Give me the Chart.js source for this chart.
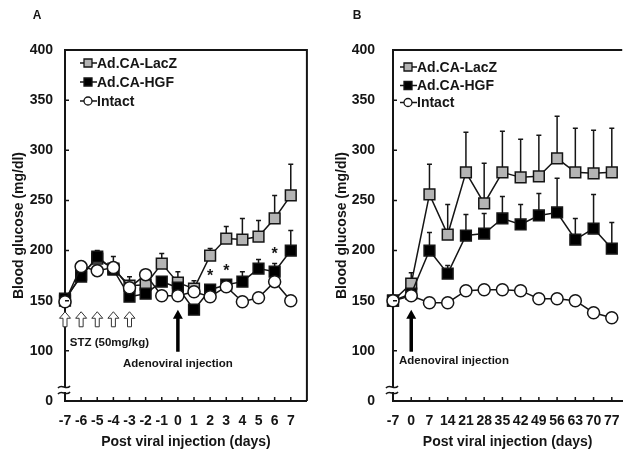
<!DOCTYPE html>
<html>
<head>
<meta charset="utf-8">
<script src="https://cdn.jsdelivr.net/npm/chart.js@4.4.1/dist/chart.umd.min.js"></script>
<style>
  html, body { margin: 0; padding: 0; background: #fff; }
  #wrap { position: relative; width: 632px; height: 451px; overflow: hidden; }
  canvas { position: absolute; top: 0; }
  #chartA { left: 0; }
  #chartB { left: 316px; }
</style>
</head>
<body>
<div id="wrap">
  <canvas id="chartA" width="316" height="451"></canvas>
  <canvas id="chartB" width="316" height="451"></canvas>
</div>
<script>
// Panel A: daily readings through the STZ course, injection on day 0
const daysA = [-7, -6, -5, -4, -3, -2, -1, 0, 1, 2, 3, 4, 5, 6, 7]
const lacZA = [150, 176, 192, 182, 165, 166, 187, 168, 162, 195, 212, 211, 214, 232, 255]
const lacZAErr = [3, 5, 6, 12, 9, 5, 10, 11, 8, 7, 12, 21, 16, 23, 31]
const hgfA = [152, 174, 194, 181, 154, 157, 169, 163, 141, 161, 166, 169, 182, 179, 200]
const hgfAErr = [3, 4, 6, 6, 5, 4, 5, 5, 4, 4, 4, 10, 9, 8, 20]
const intactA = [149, 184, 180, 183, 163, 176, 155, 155, 159, 154, 164, 149, 153, 169, 150]
const intactAErr = [3, 3, 3, 4, 4, 3, 3, 3, 3, 3, 3, 3, 3, 3, 3]
const stzDays = [-7, -6, -5, -4, -3]
const starDaysA = [2, 3, 6]

// Panel B: weekly readings after the injection
const daysB = [-7, 0, 7, 14, 21, 28, 35, 42, 49, 56, 63, 70, 77]
const lacZB = [150, 167, 256, 216, 278, 247, 278, 273, 274, 292, 278, 277, 278]
const lacZBErr = [3, 11, 30, 30, 40, 40, 41, 38, 41, 42, 44, 43, 44]
const hgfB = [150, 157, 200, 177, 215, 217, 232, 226, 235, 238, 211, 222, 202]
const hgfBErr = [3, 5, 18, 8, 21, 20, 22, 20, 22, 34, 21, 34, 26]
const intactB = [150, 155, 148, 148, 160, 161, 161, 160, 152, 152, 150, 138, 133]
const intactBErr = [3, 3, 2, 3, 3, 4, 3, 3, 3, 4, 3, 4, 4]

const yTicks = [0, 100, 150, 200, 250, 300, 350, 400]
// the axis is broken below 100: "0" sits one step under 100
const BREAK_FLOOR = 50

Chart.defaults.font.family = '"Liberation Sans", Arial, sans-serif'
Chart.defaults.color = '#151515'

const INK = '#151515'
const BOLD = (size) => ({ size: size, weight: 'bold' })

function pts(xs, ys) {
    return xs.map((x, i) => ({ x: x, y: ys[i] }))
}

function series(label, xs, ys, errs, style) {
    const isCircle = style === 'circle'
    return {
        label: label,
        data: pts(xs, ys),
        errorBars: errs,
        clip: false,
        borderColor: INK,
        borderWidth: 1.5,
        pointStyle: isCircle ? 'circle' : 'rect',
        pointRadius: isCircle ? 6 : 7.6,
        pointBorderWidth: 1.5,
        pointBorderColor: INK,
        pointBackgroundColor: style === 'gray' ? '#b4b4b4' : (style === 'black' ? '#000' : '#fff'),
        order: isCircle ? 1 : (style === 'black' ? 2 : 3),
        _style: style,
    }
}

function drawArrow(ctx, x, yTip, yTail, hollow, headW, headLen, shaftW) {
    ctx.beginPath()
    ctx.moveTo(x, yTip)
    ctx.lineTo(x + headW / 2, yTip + headLen)
    ctx.lineTo(x + shaftW / 2, yTip + headLen)
    ctx.lineTo(x + shaftW / 2, yTail)
    ctx.lineTo(x - shaftW / 2, yTail)
    ctx.lineTo(x - shaftW / 2, yTip + headLen)
    ctx.lineTo(x - headW / 2, yTip + headLen)
    ctx.closePath()
    if (hollow) {
        ctx.fillStyle = '#fff'
        ctx.fill()
        ctx.lineWidth = 1
        ctx.strokeStyle = '#333'
        ctx.stroke()
    } else {
        ctx.fillStyle = '#000'
        ctx.fill()
    }
}

const panelDecor = {
    id: 'panelDecor',
    beforeDatasetsDraw(chart) {
        // one-sided (upper) error bars, under the markers
        const ctx = chart.ctx
        const y = chart.scales.y
        ctx.save()
        ctx.strokeStyle = INK
        ctx.lineWidth = 1.5
        chart.data.datasets.forEach((ds, i) => {
            chart.getDatasetMeta(i).data.forEach((pt, j) => {
                const top = y.getPixelForValue(ds.data[j].y + ds.errorBars[j])
                ctx.beginPath()
                ctx.moveTo(pt.x, pt.y)
                ctx.lineTo(pt.x, top)
                ctx.moveTo(pt.x - 2.5, top)
                ctx.lineTo(pt.x + 2.5, top)
                ctx.stroke()
            })
        })
        ctx.restore()
    },
    afterDraw(chart, args, o) {
        const ctx = chart.ctx
        const area = chart.chartArea
        const x = chart.scales.x
        const y = chart.scales.y
        ctx.save()

        // frame on top (and right)
        ctx.strokeStyle = INK
        ctx.lineWidth = 2
        ctx.beginPath()
        ctx.moveTo(area.left, area.top)
        ctx.lineTo(area.right, area.top)
        if (o.rightEdge) ctx.lineTo(area.right, area.bottom)
        ctx.stroke()

        // tick marks point inward
        ctx.lineWidth = 1.5
        ctx.beginPath()
        x.ticks.forEach(t => {
            const px = x.getPixelForValue(t.value)
            ctx.moveTo(px, area.bottom)
            ctx.lineTo(px, area.bottom - 4)
        })
        y.ticks.forEach(t => {
            const py = y.getPixelForValue(t.value)
            ctx.moveTo(area.left, py)
            ctx.lineTo(area.left + 4, py)
        })
        ctx.stroke()

        // axis break mark
        const bx = area.left
        const by = area.bottom - 15
        ctx.fillStyle = '#fff'
        ctx.fillRect(bx - 2, by + 1, 4, 5)
        ctx.lineWidth = 1.6
        ctx.strokeStyle = INK
        ;[0, 6].forEach(k => {
            ctx.beginPath()
            ctx.moveTo(bx - 7, by + k + 2)
            ctx.bezierCurveTo(bx - 3, by + k - 3, bx + 1, by + k + 5, bx + 5, by + k)
            ctx.stroke()
        })

        // arrows
        o.arrows.forEach(a => {
            a.days.forEach(d => {
                drawArrow(ctx, x.getPixelForValue(d), y.getPixelForValue(a.tip), y.getPixelForValue(a.tail),
                    a.hollow, a.headW, a.headLen, a.shaftW)
            })
        })

        // notes
        ctx.fillStyle = INK
        ctx.textBaseline = 'middle'
        o.notes.forEach(n => {
            ctx.font = 'bold 11.5px "Liberation Sans", Arial, sans-serif'
            ctx.textAlign = n.align
            const px = n.left != null ? area.left + n.left : x.getPixelForValue(n.x)
            ctx.fillText(n.text, px, y.getPixelForValue(n.y))
        })

        // significance marks above the HGF bars
        if (o.stars) {
            const ds = chart.data.datasets[1]
            ctx.font = 'bold 16px "Liberation Sans", Arial, sans-serif'
            ctx.textAlign = 'center'
            o.stars.forEach(d => {
                const j = ds.data.findIndex(p => p.x === d)
                const top = y.getPixelForValue(ds.data[j].y + ds.errorBars[j])
                ctx.fillText('*', x.getPixelForValue(d), top - 9)
            })
        }

        // legend in the upper-left corner
        const lg = o.legend
        chart.data.datasets.forEach((ds, i) => {
            const ly = area.top + lg.rows[i]
            const lx = area.left + lg.left
            ctx.strokeStyle = INK
            ctx.lineWidth = 1.5
            ctx.beginPath()
            ctx.moveTo(lx, ly)
            ctx.lineTo(lx + 17, ly)
            ctx.stroke()
            ctx.fillStyle = ds.pointBackgroundColor
            ctx.lineWidth = 1.3
            ctx.beginPath()
            if (ds._style === 'circle') ctx.arc(lx + 8, ly, 4, 0, Math.PI * 2)
            else ctx.rect(lx + 4, ly - 4, 8, 8)
            ctx.fill()
            ctx.stroke()
            ctx.fillStyle = INK
            ctx.font = 'bold 14px "Liberation Sans", Arial, sans-serif'
            ctx.textAlign = 'left'
            ctx.fillText(ds.label, lx + 17, ly + 1)
        })

        // panel letter
        ctx.font = 'bold 12px "Liberation Sans", Arial, sans-serif'
        ctx.textAlign = 'center'
        ctx.fillText(o.letter, o.letterX, 16)
        ctx.restore()
    }
}

function makePanel(canvasId, cfg) {
    return new Chart(document.getElementById(canvasId), {
        type: 'line',
        data: { datasets: cfg.datasets },
        plugins: [panelDecor],
        options: {
            responsive: false,
            animation: false,
            layout: { padding: { left: 0, top: 50, right: cfg.padRight, bottom: 0 } },
            scales: {
                x: {
                    type: 'linear',
                    min: cfg.xMin,
                    max: cfg.xMax,
                    grid: { display: false, drawTicks: false },
                    border: { display: true, width: 2, color: INK },
                    afterBuildTicks: s => { s.ticks = cfg.xTicks.map(v => ({ value: v })) },
                    afterFit: s => { s.height = 50 },
                    ticks: { font: BOLD(14), padding: 12, maxRotation: 0, autoSkip: false },
                    title: {
                        display: true,
                        text: 'Post viral injection (days)',
                        font: BOLD(14),
                        padding: { top: 0, bottom: 0 },
                    },
                },
                y: {
                    min: BREAK_FLOOR,
                    max: 400,
                    grid: { display: false, drawTicks: false },
                    border: { display: true, width: 2, color: INK },
                    afterBuildTicks: s => { s.ticks = yTicks.map(v => ({ value: v === 0 ? BREAK_FLOOR : v })) },
                    afterFit: s => { s.width = cfg.yWidth },
                    ticks: {
                        font: BOLD(14),
                        padding: cfg.yLabelGap,
                        callback: v => v === BREAK_FLOOR ? '0' : v,
                    },
                    title: {
                        display: true,
                        text: 'Blood glucose (mg/dl)',
                        font: BOLD(14),
                        padding: { top: cfg.yTitlePad, bottom: 0 },
                    },
                },
            },
            plugins: {
                legend: { display: false },
                tooltip: { enabled: false },
                panelDecor: cfg.decor,
            },
        },
    })
}

makePanel('chartA', {
    datasets: [
        series('Ad.CA-LacZ', daysA, lacZA, lacZAErr, 'gray'),
        series('Ad.CA-HGF', daysA, hgfA, hgfAErr, 'black'),
        series('Intact', daysA, intactA, intactAErr, 'circle'),
    ],
    xMin: -7, xMax: 8, xTicks: daysA,
    padRight: 4, yWidth: 65, yLabelGap: 12, yTitlePad: 11,
    decor: {
        letter: 'A', letterX: 37, rightEdge: true,
        legend: { left: 15, rows: [13, 32, 51] },
        stars: starDaysA,
        arrows: [
            { days: stzDays, tip: 139, tail: 124, hollow: true, headW: 11, headLen: 6.5, shaftW: 4 },
            { days: [0], tip: 141, tail: 99, hollow: false, headW: 10, headLen: 9, shaftW: 3.5 },
        ],
        notes: [
            { text: 'STZ (50mg/kg)', x: -6.7, y: 108, align: 'left' },
            { text: 'Adenoviral injection', x: 0, y: 87, align: 'center' },
        ],
    },
})

makePanel('chartB', {
    datasets: [
        series('Ad.CA-LacZ', daysB, lacZB, lacZBErr, 'gray'),
        series('Ad.CA-HGF', daysB, hgfB, hgfBErr, 'black'),
        series('Intact', daysB, intactB, intactBErr, 'circle'),
    ],
    xMin: -7, xMax: 81, xTicks: daysB,
    padRight: 0, yWidth: 77, yLabelGap: 18, yTitlePad: 18,
    decor: {
        letter: 'B', letterX: 41, rightEdge: false,
        legend: { left: 7, rows: [17, 35.5, 52.5] },
        arrows: [
            { days: [0], tip: 141, tail: 99, hollow: false, headW: 10, headLen: 9, shaftW: 3.5 },
        ],
        notes: [
            { text: 'Adenoviral injection', left: 6, y: 90, align: 'left' },
        ],
    },
})
</script>
</body>
</html>
